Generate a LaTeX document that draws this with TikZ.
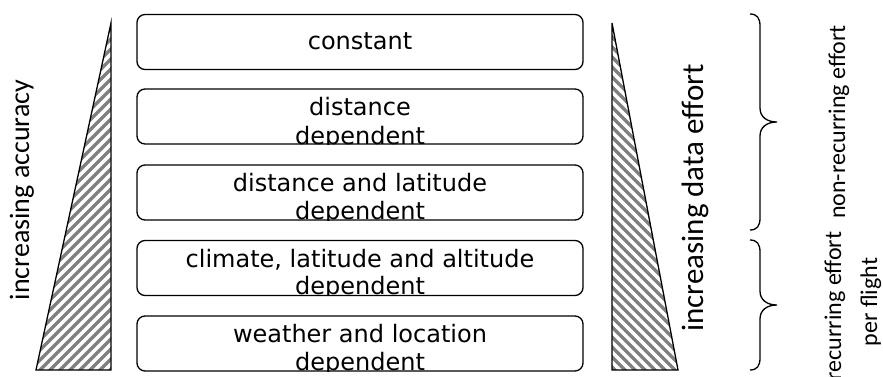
\documentclass[tikz,border=0pt]{standalone}
\usepackage{fontspec}
\setmainfont{DejaVu Sans}
\newfontfamily\labelfont{Carlito}
\begin{document}
\begin{tikzpicture}[x=1pt,y=-1pt,
  outline/.style={line width=1.3pt, line join=miter},
  stripe/.style={draw=black!50, line width=3.2pt},
  box/.style={draw, line width=1.3pt, rounded corners=8pt, minimum width=446pt,
    minimum height=55pt, inner sep=0pt},
  boxtext/.style={font=\fontsize{24}{28}\selectfont, anchor=base, inner sep=0pt},
  biglabel/.style={font=\labelfont\fontsize{28}{34}\selectfont, rotate=90, anchor=base, inner sep=0pt},
  sidelabel/.style={font=\labelfont\fontsize{24}{29}\selectfont, rotate=90, anchor=base, inner sep=0pt},
  bracestyle/.style={line width=1.3pt}]
\useasboundingbox (0,0) rectangle (883,377);
\clip (0,0) rectangle (883,377);

% boxes
\node[box, path picture={
  \node[boxtext] (t1) at ([yshift=-35pt]path picture bounding box.north) {constant};}] (b1) at (360,42) {};
\node[box, path picture={
  \node[boxtext] (t2a) at ([yshift=-27pt]path picture bounding box.north) {distance};
  \node[boxtext] (t2b) at ([yshift=-55pt]path picture bounding box.north) {dependent};}] (b2) at (360,116.5) {};
\node[box, path picture={
  \node[boxtext] (t3a) at ([yshift=-26pt]path picture bounding box.north) {distance and latitude};
  \node[boxtext] (t3b) at ([yshift=-54pt]path picture bounding box.north) {dependent};}] (b3) at (360,192.5) {};
\node[box, path picture={
  \node[boxtext] (t4a) at ([yshift=-27pt]path picture bounding box.north) {climate, latitude and altitude};
  \node[boxtext] (t4b) at ([yshift=-54pt]path picture bounding box.north) {dependent};}] (b4) at (360,268) {};
\node[box, path picture={
  \node[boxtext] (t5a) at ([yshift=-26pt]path picture bounding box.north) {weather and location};
  \node[boxtext] (t5b) at ([yshift=-54pt]path picture bounding box.north) {dependent};}] (b5) at (360,343.5) {};

% left triangle
\coordinate (LT) at (111,23);
\coordinate (LB1) at (36,370);
\coordinate (LB2) at (111,370);
\begin{scope}
  \clip (LT) -- (LB1) -- (LB2) -- cycle;
  \foreach \k in {-340,-330,...,110} \draw[stripe] (\k,390) -- ++(400,-400);
\end{scope}
\draw[outline] (LT) -- (LB1) -- (LB2) -- cycle;

% right triangle
\coordinate (RT) at (612,23);
\coordinate (RB1) at (612,370);
\coordinate (RB2) at (678,370);
\begin{scope}
  \clip (RT) -- (RB1) -- (RB2) -- cycle;
  \foreach \k in {225,235,...,655} \draw[stripe] (\k,-10) -- ++(400,400);
\end{scope}
\draw[outline] (RT) -- (RB1) -- (RB2) -- cycle;

% rotated labels
\node[biglabel] (acc) at (29,190) {increasing accuracy};
\node[biglabel, font=\labelfont\fontsize{31}{36}\selectfont] (eff) at (703,198) {increasing data effort};

% braces
\draw[bracestyle] (750,14) .. controls (757,14) and (760,18) .. (760,26) -- (760,108)
  .. controls (760,117) and (767,122) .. (777,122)
  .. controls (767,122) and (760,127) .. (760,136) -- (760,218)
  .. controls (760,226) and (757,230) .. (750,230);
\draw[bracestyle] (750,240) .. controls (757,240) and (760,244) .. (760,252) -- (760,291)
  .. controls (760,300) and (767,305) .. (777,305)
  .. controls (767,305) and (760,310) .. (760,319) -- (760,358)
  .. controls (760,366) and (757,370) .. (750,370);

% side labels
\node[sidelabel] (nre) at (845,122) {non-recurring effort};
\node[sidelabel] (re1) at (841,306) {recurring effort};
\node[sidelabel] (re2) at (877,302) {per flight};
\end{tikzpicture}
\end{document}
